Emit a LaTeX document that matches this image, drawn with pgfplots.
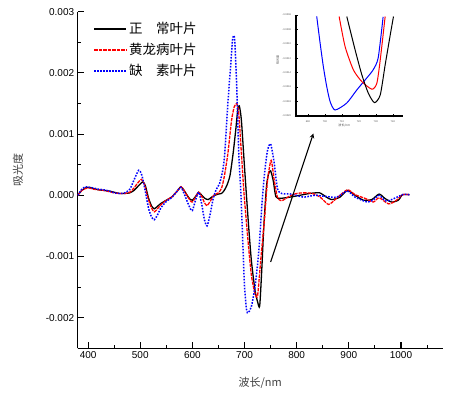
\documentclass[border=0pt]{standalone}
\usepackage{fontspec}
\setmainfont{Liberation Sans}
\newfontfamily\cjk{Noto Sans CJK SC}
\usepackage{pgfplots}
\pgfplotsset{compat=1.18}

\begin{document}
\begin{tikzpicture}
\useasboundingbox (-77.7pt,-47.7pt) rectangle (372.3pt,348.3pt);
\begin{axis}[
  at={(0pt,0pt)}, anchor=south west,
  width=365pt, height=336.6pt, scale only axis,
  xmin=380, xmax=1080, ymin=-0.0025, ymax=0.003,
  axis x line*=bottom, axis y line*=left,
  axis line style={-, line width=1.3pt},
  xtick={400,500,...,1000},
  minor xtick={450,550,...,1050},
  ytick={-0.002,-0.001,0,0.001,0.002,0.003},
  minor ytick={-0.0025,-0.0015,-0.0005,0.0005,0.0015,0.0025},
  scaled y ticks=false,
  xticklabel style={/pgf/number format/.cd, set thousands separator={}},
  yticklabel style={/pgf/number format/.cd, fixed, fixed zerofill, precision=3},
  /pgf/number format/assume math mode=true,
  tick align=inside,
  major tick length=6pt, minor tick length=3.5pt,
  tick style={line width=1.1pt, black},
  ticklabel style={font=\fontsize{10}{12}\selectfont},
  xlabel={\cjk 波长/nm},
  ylabel={\cjk 吸光度},
  xlabel style={at={(axis description cs:0.5,-0.103)}, anchor=center, font=\fontsize{11}{13}\selectfont, color=black!75},
  ylabel style={at={(axis description cs:-0.164,0.53)}, anchor=center, font=\fontsize{11}{13}\selectfont, color=black!75},
  legend style={draw=none, fill=none, at={(axis description cs:0.035,0.98)}, anchor=north west,
    font=\fontsize{13.5}{15}\selectfont\cjk, row sep=4pt},
  legend cell align=left,
  legend image code/.code={\draw[#1] (0pt,0pt) -- (32pt,0pt);},
]
\addplot[black, line width=1.3pt, smooth, tension=0.4] coordinates {
(380,0) (388,0.00008) (395,0.00012) (402,0.00013) (410,0.00011) (420,0.00009)
(430,0.00008) (440,0.00007) (450,0.00005) (460,0.00003) (470,0.00003) (480,0.00004)
(488,0.00008) (496,0.00015) (505,0.00022) (510,0.00015) (516,-0.00005) (522,-0.00018)
(527,-0.00022) (533,-0.00018) (540,-0.00013) (550,-0.00008) (560,-0.00003) (570,0.00006)
(578,0.00014) (584,0.00008) (590,0.00000) (596,-0.00007) (600,-0.00008) (606,-0.00002)
(612,0.00005) (618,0.00000) (624,-0.00005) (630,-0.00007) (637,-0.00003) (643,0.00000)
(650,0.00002) (656,0.00003) (661,0.00008) (666,0.00016) (672,0.00032) (678,0.00068)
(683,0.00106) (687,0.00140) (690,0.00146) (694,0.00122) (700,0.00045) (707,-0.00041)
(713,-0.00106) (720,-0.00155) (725,-0.00174) (729,-0.00181) (733,-0.00122) (737,-0.00050)
(742,0.00014) (746,0.00035) (750,0.00040) (755,0.00024) (760,-0.00002) (768,-0.00005)
(787,-0.00003) (806,0.00000) (825,0.00003) (844,0.00004) (857,-0.00003) (867,-0.00007)
(883,-0.00003) (897,0.00008) (912,0.00000) (928,-0.00008) (944,-0.00007) (958,0.00002)
(969,-0.00005) (982,-0.00011) (995,-0.00008) (1003,0.00001) (1016,0.00001)
};
\addlegendentry{正\hspace{1em}常叶片}
\addplot[red, line width=1.3pt, dash pattern=on 3.5pt off 1pt, smooth, tension=0.4] coordinates {
(380,0) (388,0.00008) (395,0.00011) (402,0.00012) (410,0.00010) (420,0.00009)
(430,0.00008) (440,0.00006) (450,0.00004) (460,0.00003) (470,0.00003) (480,0.00005)
(488,0.00012) (495,0.00020) (502,0.00026) (508,0.00018) (514,-0.00002) (521,-0.00020)
(527,-0.00027) (533,-0.00022) (540,-0.00015) (550,-0.00008) (560,-0.00003) (570,0.00006)
(578,0.00014) (584,0.00008) (590,-0.00001) (596,-0.00009) (600,-0.00011) (606,-0.00003)
(612,0.00005) (618,-0.00002) (623,-0.00012) (628,-0.00017) (634,-0.00010) (641,0.00000)
(650,0.00004) (656,0.00012) (661,0.00030) (668,0.00068) (675,0.00122) (680,0.00144)
(685,0.00150) (689,0.00133) (694,0.00068) (699,0.00003) (706,-0.00068) (713,-0.00130)
(720,-0.00160) (725,-0.00164) (731,-0.00106) (738,-0.00041) (744,0.00024) (751,0.00057)
(757,0.00024) (763,-0.00003) (771,-0.00009) (785,-0.00002) (800,0.00003) (815,0.00004)
(830,0.00003) (845,-0.00003) (861,-0.00015) (875,-0.00006) (897,0.00009) (912,0.00001)
(931,-0.00005) (947,-0.00011) (958,-0.00004) (976,-0.00014) (990,-0.00009) (1003,0.00001)
(1016,0.00001)
};
\addlegendentry{黄龙病叶片}
\addplot[blue, line width=1.5pt, dash pattern=on 1.6pt off 1.4pt, smooth, tension=0.4] coordinates {
(380,0) (388,0.00010) (395,0.00014) (402,0.00013) (410,0.00012) (420,0.00010)
(430,0.00009) (440,0.00007) (450,0.00004) (460,0.00003) (470,0.00004) (480,0.00010)
(488,0.00025) (497,0.00041) (503,0.00033) (510,0.00005) (516,-0.00022) (522,-0.00036)
(527,-0.00040) (533,-0.00032) (540,-0.00020) (550,-0.00010) (560,-0.00004) (570,0.00006)
(578,0.00013) (584,0.00003) (590,-0.00010) (596,-0.00022) (600,-0.00025) (606,-0.00008)
(612,0.00005) (618,-0.00015) (623,-0.00040) (628,-0.00050) (633,-0.00035) (640,-0.00005)
(646,0.00010) (652,0.00019) (658,0.00040) (662,0.00068) (668,0.00150) (674,0.00220)
(677,0.00255) (680,0.00261) (682,0.00240) (685,0.00177) (689,0.00068) (693,0.00003)
(696,-0.00063) (700,-0.00150) (704,-0.00188) (707,-0.00192) (713,-0.00182) (720,-0.00150)
(727,-0.00095) (733,-0.00019) (739,0.00041) (744,0.00073) (750,0.00084) (757,0.00052)
(763,0.00011) (771,0.00003) (790,0.00002) (813,-0.00003) (835,0.00000) (857,-0.00002)
(877,-0.00003) (897,0.00007) (912,-0.00003) (935,-0.00011) (946,-0.00008) (958,0.00000)
(970,-0.00009) (982,-0.00007) (1003,0.00001) (1016,0.00001)
};
\addlegendentry{缺\hspace{1em}素叶片}
\draw[-stealth, line width=1.1pt] (axis cs:750,-0.00109) -- (axis cs:832,0.00101);
\end{axis}

\begin{axis}[
  at={(218.3pt,232.3pt)}, anchor=south west,
  width=107pt, height=101pt, scale only axis,
  xmin=683, xmax=746, ymin=-0.002, ymax=-0.0006,
  axis x line*=bottom, axis y line*=left,
  axis line style={-, line width=1.1pt},
  xtick={690,700,710,720,730,740},
  ytick={-0.002,-0.0018,-0.0016,-0.0014,-0.0012,-0.001,-0.0008,-0.0006},
  minor x tick num=1,
  scaled y ticks=false,
  yticklabel style={/pgf/number format/.cd, fixed, fixed zerofill, precision=4},
  /pgf/number format/assume math mode=true,
  tick align=center,
  major tick length=3pt, minor tick length=2pt,
  tick style={line width=0.6pt, black},
  ticklabel style={font=\fontsize{2.5}{3}\selectfont, color=black!70},
  xlabel={\cjk 波长/nm}, ylabel={\cjk 吸光度},
  xlabel style={at={(axis description cs:0.45,-0.09)}, anchor=center, font=\fontsize{3}{3.5}\selectfont, color=black!70},
  ylabel style={at={(axis description cs:-0.17,0.55)}, anchor=center, font=\fontsize{3}{3.5}\selectfont, color=black!70},
  clip=true,
]
\addplot[blue, line width=1pt, smooth, tension=0.4] coordinates {
(695.2,-0.00062) (697.2,-0.00099) (699.1,-0.001315) (701.1,-0.001593) (703.1,-0.001801)
(706,-0.001917) (712.9,-0.00182) (718.8,-0.001639) (724.7,-0.001472) (728.4,-0.001361)
(731.4,-0.001194) (734.3,-0.000625)
};
\addplot[red, line width=1pt, smooth, tension=0.4] coordinates {
(708.4,-0.000621) (711.9,-0.001037) (716.8,-0.001361) (721.8,-0.001524) (727.7,-0.001629)
(730.6,-0.001546) (732.6,-0.001222) (735.5,-0.000621)
};
\addplot[black, line width=1pt, smooth, tension=0.4] coordinates {
(712.9,-0.000621) (717.8,-0.001083) (721.8,-0.001431) (725.6,-0.001685) (729.2,-0.001815)
(732.6,-0.001708) (735.5,-0.001292) (738.5,-0.000875) (740.4,-0.000621)
};
\end{axis}
\end{tikzpicture}
\end{document}
